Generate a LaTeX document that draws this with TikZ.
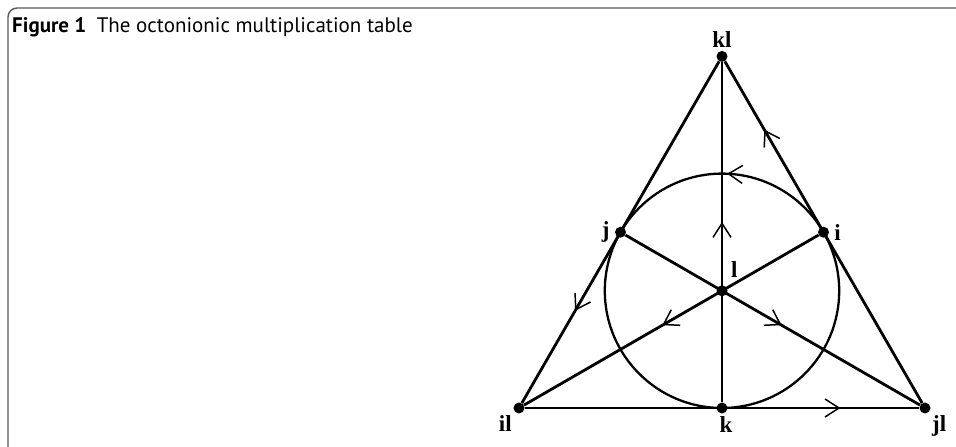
\documentclass[tikz,border=0pt]{standalone}
\usepackage{fontspec}
\setmainfont{Liberation Serif}
\setsansfont{PT Sans}
\usetikzlibrary{arrows.meta,decorations.markings}

\tikzset{
  pt/.style={circle,fill=black,inner sep=0pt,minimum size=11pt},
  lbl/.style={font=\fontsize{23}{25}\selectfont\bfseries,inner sep=3pt},
  edge/.style={line width=2.8pt},
  arrowat/.style={postaction={decorate,decoration={markings,
      mark=at position #1 with {\arrow[line width=1.5pt]{Straight Barb[length=14pt,width=18pt]}}}}}
}

\begin{document}
\begin{tikzpicture}[x=1pt,y=1pt]
  \useasboundingbox (0,0) rectangle (956,447);
  % frame and caption
  \draw[black!65,line width=1.4pt,rounded corners=9pt] (8,-20) |- (980,439);
  \node[anchor=base west,inner sep=0pt,font=\sffamily\fontsize{21}{24}\selectfont] (cap) at (12,414)
    {\textbf{Figure 1}\hspace{0.5em}The octonionic multiplication table};

  % points of the Fano plane
  \node[pt,label={[lbl]above:kl}] (kl) at (722,390.6) {};
  \node[pt,label={[lbl,label distance=2pt]left:j}] (j) at (620.5,214.8) {};
  \node[pt,label={[lbl,label distance=2pt]right:i}] (i) at (823.5,214.8) {};
  \node[pt,label={[lbl,label distance=6pt]60:l}] (l) at (722,156.2) {};
  \node[pt,label={[lbl]below left:il}] (il) at (519,39) {};
  \node[pt,label={[lbl,xshift=4pt]below:k}] (k) at (722,39) {};
  \node[pt,label={[lbl]below right:jl}] (jl) at (925,39) {};

  % lines
  \draw[edge,arrowat=0.73] (kl) -- (il);
  \draw[edge,arrowat=0.80] (jl) -- (kl);
  \draw[edge,arrowat=0.80] (il) -- (jl);
  \draw[edge,arrowat=0.53] (k) -- (kl);
  \draw[edge,arrowat=0.53] (i) -- (il);
  \draw[edge,arrowat=0.53] (j) -- (jl);
  \draw[line width=2.3pt,arrowat=0.243] (l.center) circle[radius=117.2];
\end{tikzpicture}
\end{document}
